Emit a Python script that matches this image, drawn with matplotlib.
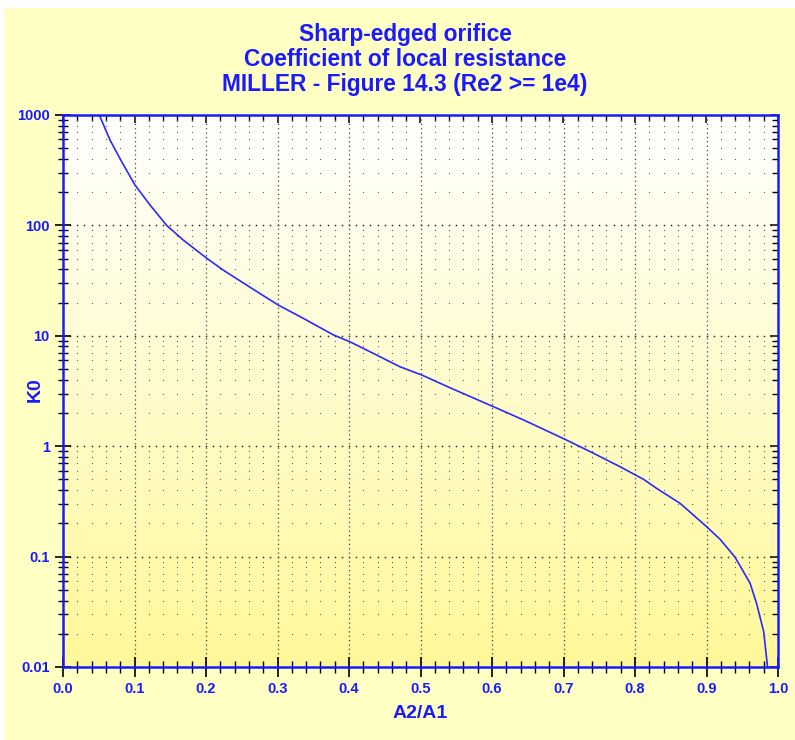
import numpy as np
import matplotlib.pyplot as plt
from matplotlib.patches import Rectangle

# K0 vs A2/A1
area_ratio = [0.0508, 0.0657, 0.082, 0.1007, 0.1217, 0.145, 0.168, 0.201, 0.224,
              0.264, 0.301, 0.336, 0.378, 0.401, 0.434, 0.471, 0.502, 0.541,
              0.602, 0.644, 0.702, 0.742, 0.779, 0.812, 0.830, 0.863, 0.900,
              0.919, 0.940, 0.961, 0.970, 0.980, 0.9855]
k0 = [1000, 594, 378, 232, 153, 100, 73.8, 50.4, 39.4,
      26.9, 19.0, 14.4, 10.2, 8.85, 6.93, 5.25, 4.41, 3.39,
      2.28, 1.73, 1.155, 0.863, 0.652, 0.501, 0.416, 0.304, 0.187,
      0.1435, 0.0986, 0.0573, 0.0378, 0.0209, 0.0098]

title_lines = ['Sharp-edged orifice', 'Coefficient of local resistance',
               'MILLER - Figure 14.3 (Re2 >= 1e4)']
x_ticks = [0.0, 0.1, 0.2, 0.3, 0.4, 0.5, 0.6, 0.7, 0.8, 0.9, 1.0]
y_ticks = [0.01, 0.1, 1, 10, 100, 1000]
y_ticklabels = ['0.01', '0.1', '1', '10', '100', '1000']

blue = '#1a1aff'
plt.rcParams['font.family'] = ['Liberation Sans', 'DejaVu Sans']

fig = plt.figure(figsize=(7.95, 7.40), dpi=100)
fig.patch.set_facecolor('white')
# yellow panel (small white margin at top and left)
fig.patches.append(Rectangle((4 / 795, 0), 1, 1 - 8 / 740, transform=fig.transFigure,
                             facecolor='#ffffc4', edgecolor='none', zorder=-10))

ax = fig.add_axes([63 / 795, 1 - 667 / 740, 715 / 795, 552 / 740])
ax.set_xlim(0, 1)
ax.set_yscale('log')
ax.set_ylim(0.01, 1000)

# vertical gradient background, white at top to yellow at bottom
grad = np.linspace(0, 1, 256).reshape(-1, 1)
top = np.array([1.0, 1.0, 1.0])
bot = np.array([1.0, 0.975, 0.6])
img = top + (bot - top) * grad[..., None]
ax.imshow(img, extent=[0, 1, 0, 1], transform=ax.transAxes, aspect='auto',
          zorder=0, origin='upper')

# minor grid as dots at intersections
mx = np.arange(0.02, 1.0, 0.02)
mx = mx[np.abs(mx * 10 - np.round(mx * 10)) > 1e-6]
my = [m * 10.0 ** d for d in range(-2, 3) for m in range(2, 10)]
gx, gy = np.meshgrid(mx, my)
ax.scatter(gx.ravel(), gy.ravel(), s=0.7, color='#555555', zorder=1, linewidths=0)
for d in [0.1, 1, 10, 100]:
    xs = np.arange(0.01, 1.0, 0.01)
    ax.scatter(xs, np.full_like(xs, d), s=1.5, color='#333333', zorder=1, linewidths=0)
for v in np.arange(0.1, 1.0, 0.1):
    ax.axvline(v, color='#444444', lw=0.9, ls=(0, (1, 2.5)), zorder=1)

ax.plot(area_ratio, k0, color='#2a2aff', lw=1.2, zorder=3, clip_on=True)

ax.set_xticks(x_ticks)
ax.set_xticklabels([f'{v:.1f}' for v in x_ticks])
ax.set_xticks(mx, minor=True)
ax.set_yticks(y_ticks)
ax.set_yticklabels(y_ticklabels)
ax.set_yticks(my, minor=True)
ax.yaxis.set_minor_formatter(plt.NullFormatter())

ax.tick_params(which='both', colors='black', labelcolor=blue, labelsize=10.5)
ax.tick_params(axis='x', which='major', direction='inout', length=15, width=1.2, pad=3)
ax.tick_params(axis='x', which='minor', direction='inout', length=8, width=1.0)
ax.tick_params(axis='y', which='major', direction='inout', length=11, width=1.2, pad=4)
ax.tick_params(axis='y', which='minor', direction='inout', length=7, width=1.0)
for lab in ax.get_xticklabels() + ax.get_yticklabels():
    lab.set_fontweight('bold')

# inward ticks on top and right
sx = ax.secondary_xaxis('top')
sx.set_xticks(x_ticks)
sx.set_xticks(mx, minor=True)
sx.tick_params(which='major', direction='in', length=6, width=1.1, colors='black',
               labeltop=False)
sx.tick_params(which='minor', direction='in', length=4, width=1.0, colors='black')
sx.spines['top'].set_visible(False)
sy = ax.secondary_yaxis('right')
sy.set_yticks(y_ticks)
sy.set_yticks(my, minor=True)
sy.yaxis.set_minor_formatter(plt.NullFormatter())
sy.tick_params(which='major', direction='in', length=6, width=1.1, colors='black',
               labelright=False)
sy.tick_params(which='minor', direction='in', length=4, width=1.0, colors='black')
sy.spines['right'].set_visible(False)

for s in ax.spines.values():
    s.set_color(blue)
    s.set_linewidth(1.8)
    s.set_zorder(4)

fig.text(420 / 795, 1 - 714 / 740, 'A2/A1', color=blue, fontsize=14,
         fontweight='bold', ha='center', va='center')
fig.text(35 / 795, 1 - 390 / 740, 'K0', color=blue, fontsize=14,
         fontweight='bold', ha='center', va='center', rotation=90)

for i, t in enumerate(title_lines):
    fig.text(405 / 795, 1 - (35 + 24.5 * i) / 740, t, color=blue, fontsize=16.4,
             fontweight='bold', ha='center', va='center')

fig.savefig('out.png', dpi=100)
